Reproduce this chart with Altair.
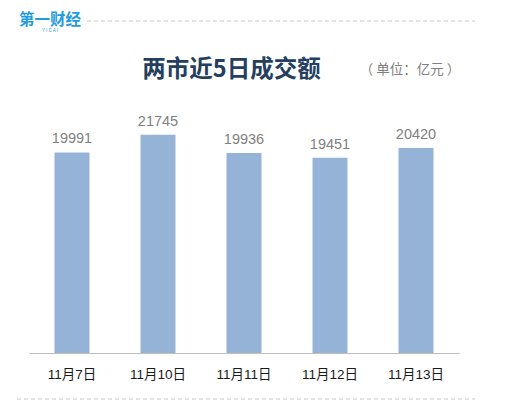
import altair as alt
import pandas as pd

dates = ["11月7日", "11月10日", "11月11日", "11月12日", "11月13日"]
values = [19991, 21745, 19936, 19451, 20420]
title_text = "两市近5日成交额"
unit_text = "（ 单位：亿元 ）"
logo_text = "第一财经"
logo_sub = "Y     I     C     A     I"

df = pd.DataFrame({"date": dates, "value": values})

FONT = "Liberation Sans, Arial, Noto Sans CJK SC, sans-serif"
CJK = "Noto Sans CJK SC, Liberation Sans, sans-serif"

x_enc = alt.X(
    "date:N", sort=dates, title=None,
    scale=alt.Scale(paddingInner=0.593, paddingOuter=0.2965),
    axis=alt.Axis(labelAngle=0, labelFontSize=13.5, labelColor="#1a1a1a", labelFont=FONT,
                  ticks=False, domainColor="#bfbfbf", domainWidth=1.2, labelPadding=14,
                  grid=False),
)
y_enc = alt.Y("value:Q", title=None, scale=alt.Scale(domain=[0, 30000], nice=False),
              axis=None)

base = alt.Chart(df)
bars = base.mark_bar(color="#95b3d7").encode(x=x_enc, y=y_enc)
labels = base.mark_text(baseline="bottom", dy=-6, fontSize=14.5, color="#7f7f7f",
                        font=FONT).encode(x=x_enc, y=y_enc, text=alt.Text("value:Q", format="d"))

def single(txt):
    return alt.Chart(pd.DataFrame({"t": [txt]}))

title = single(title_text).mark_text(fontSize=23.5, fontWeight="bold", color="#243f60",
                                     font=CJK, align="center", baseline="middle").encode(
    x=alt.value(202.5), y=alt.value(18), text="t:N")
unit = single(unit_text).mark_text(fontSize=13.5, color="#7f7f7f", font=CJK,
                                   align="center", baseline="middle").encode(
    x=alt.value(381), y=alt.value(18), text="t:N")
logo = single(logo_text).mark_text(fontSize=15.5, fontWeight="bold", color="#1e9be2",
                                   font=CJK, align="center", baseline="middle").encode(
    x=alt.value(21), y=alt.value(-32.5), text="t:N")
logo2 = single(logo_sub).mark_text(fontSize=4.5, color="#1e9be2", font=FONT,
                                   align="center", baseline="middle").encode(
    x=alt.value(21), y=alt.value(-21.5), text="t:N")
top_line = single("a").mark_rule(color="#c8c8c8", strokeDash=[4, 3], strokeWidth=1).encode(
    x=alt.value(58), x2=alt.value(446), y=alt.value(-31))
bottom_line = single("b").mark_rule(color="#c8c8c8", strokeDash=[4, 3], strokeWidth=1).encode(
    x=alt.value(-12), x2=alt.value(446), y=alt.value(347))

chart = alt.layer(bars, labels, title, unit, logo, logo2, top_line, bottom_line).properties(
    width=430, height=301,
    background="white",
    autosize=alt.AutoSizeParams(type="none"),
    padding={"left": 21, "top": 44, "right": 51, "bottom": 50},
).configure_view(strokeWidth=0)

chart.save("out.html", embed_options={"renderer": "svg", "actions": False})
